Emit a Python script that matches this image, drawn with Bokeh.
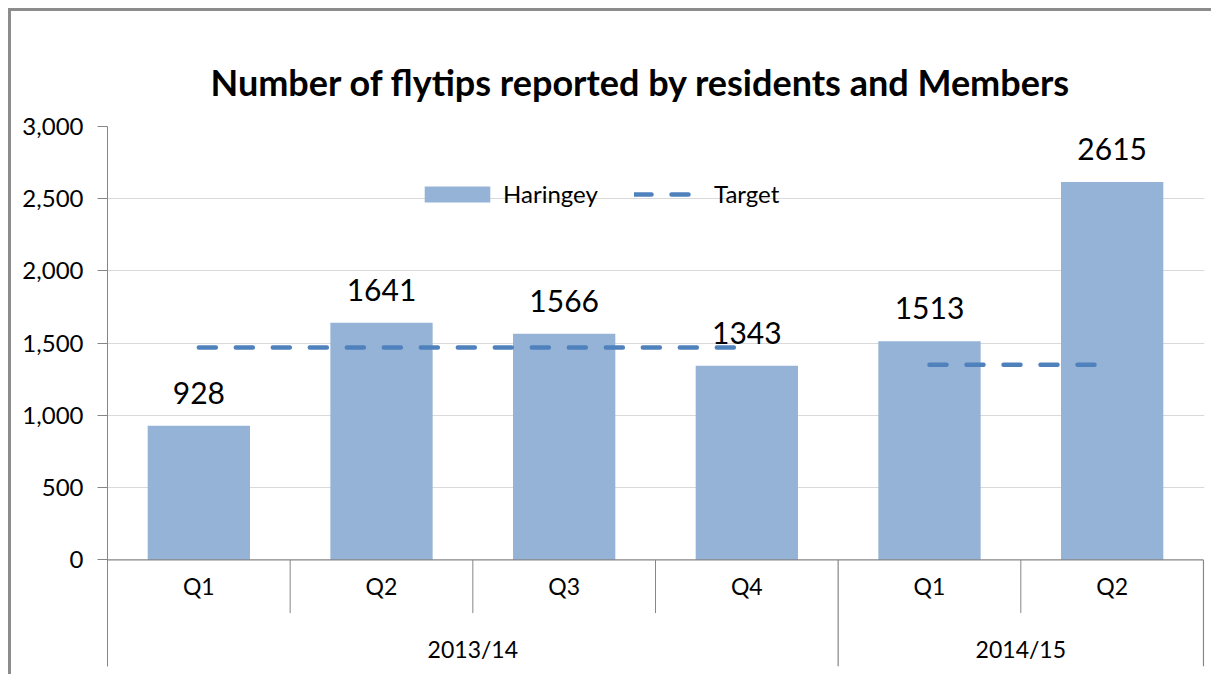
from bokeh.plotting import figure
from bokeh.models import Range1d, FixedTicker, NumeralTickFormatter, Legend, LegendItem
from bokeh.core.properties import value
from bokeh.embed import file_html
from bokeh.resources import INLINE

# ---- data ----
years = ["2013/14", "2013/14", "2013/14", "2013/14", "2014/15", "2014/15"]
quarters = ["Q1", "Q2", "Q3", "Q4", "Q1", "Q2"]
haringey = [928, 1641, 1566, 1343, 1513, 2615]
target = [1470, 1470, 1470, 1470, 1350, 1350]
y_ticks = [0, 500, 1000, 1500, 2000, 2500, 3000]
title_text = "Number of flytips reported by residents and Members"

FONT = "Lato"
BAR = "#95B3D7"
TGT = "#4F81BD"
AXIS = "#868686"
GRID = "#D9D9D9"

n = len(quarters)
xc = [i + 0.5 for i in range(n)]

# layout constants (data units below the zero line)
Y_BOTTOM = -738
Q_ROW = -181
YEAR_ROW = -618
Q_SEP = -368

p = figure(width=1203, height=666,
           x_range=Range1d(0, n * 1.00092), y_range=Range1d(Y_BOTTOM, 3000),
           output_backend="svg", toolbar_location=None,
           x_axis_location=None,
           min_border_left=96, min_border_top=115, min_border_bottom=11, min_border_right=10)
p.styles = {"border-left": "3px solid #8C8C8C", "border-top": "3px solid #8C8C8C",
            "margin-left": "8px", "margin-top": "8px"}
p.outline_line_color = None
p.background_fill_color = "white"
p.border_fill_color = "white"

# title
p.title.text = title_text
p.title.align = "left"
p.title.offset = 103
p.title.text_font = FONT
p.title.text_font_style = "bold"
p.title.text_font_size = "36px"
p.title.text_color = "#000000"
p.title.standoff = 45

# y axis
ya = p.yaxis[0]
ya.ticker = FixedTicker(ticks=y_ticks)
ya.formatter = NumeralTickFormatter(format="0,0")
ya.axis_line_color = AXIS
ya.major_tick_line_color = AXIS
ya.major_tick_out = 10
ya.major_tick_in = 0
ya.minor_tick_line_color = None
ya.major_label_text_font = FONT
ya.major_label_text_font_size = "24px"
ya.major_label_text_color = "#000000"
ya.major_label_standoff = 14

p.xgrid.visible = False
p.ygrid.ticker = FixedTicker(ticks=y_ticks[1:])
p.ygrid.grid_line_color = GRID

# bars
bars = p.vbar(x=xc, top=haringey, width=0.56, fill_color=BAR, line_color=None)

# target lines per year
groups = []
for i, y in enumerate(years):
    if not groups or groups[-1][0] != y:
        groups.append([y, []])
    groups[-1][1].append(i)
txs = [[xc[g[0]], xc[g[-1]]] for _, g in groups]
tys = [[target[g[0]], target[g[-1]]] for _, g in groups]
tl = p.multi_line(xs=txs, ys=tys, line_color=TGT, line_width=4.5,
                  line_dash="17 20", line_cap="round")

# zero line
p.segment(x0=[0], y0=[0], x1=[n], y1=[0], line_color=AXIS, line_width=1.2)

# data labels
p.text(x=xc, y=haringey, text=[str(v) for v in haringey], y_offset=-22,
       text_align="center", text_baseline="bottom",
       text_font=value(FONT), text_font_size="30px", text_color="#000000")

# category axis: quarter labels + separators
p.text(x=xc, y=[Q_ROW] * n, text=quarters, text_align="center", text_baseline="middle",
       text_font=value(FONT), text_font_size="23px", text_color="#000000")
qsep_x = [i for i in range(1, n) if years[i] == years[i - 1]]
p.segment(x0=qsep_x, y0=[0] * len(qsep_x), x1=qsep_x, y1=[Q_SEP] * len(qsep_x),
          line_color=AXIS, line_width=1)
ysep_x = [g[-1] + 1 for _, g in groups]
p.segment(x0=ysep_x, y0=[0] * len(ysep_x), x1=ysep_x, y1=[Y_BOTTOM] * len(ysep_x),
          line_color=AXIS, line_width=1.2)
ycx = [(g[0] + g[-1] + 1) / 2 for _, g in groups]
p.text(x=ycx, y=[YEAR_ROW] * len(ycx), text=[y for y, _ in groups],
       text_align="center", text_baseline="middle",
       text_font=value(FONT), text_font_size="23px", text_color="#000000")

# legends
common = dict(orientation="horizontal", padding=0, margin=0, border_line_color=None,
              background_fill_alpha=0, label_text_font=FONT, label_text_font_size="24px",
              label_text_color="#000000")
leg_bar = Legend(items=[LegendItem(label="Haringey", renderers=[bars])],
                 location=(309, 458), glyph_width=82, glyph_height=20, label_standoff=5,
                 **common)
leg_tgt = Legend(items=[LegendItem(label="Target", renderers=[tl])],
                 location=(527, 458), glyph_width=58, glyph_height=20, label_standoff=22,
                 **common)
p.add_layout(leg_bar, "center")
p.add_layout(leg_tgt, "center")

open("out.html", "w").write(file_html(p, INLINE))
